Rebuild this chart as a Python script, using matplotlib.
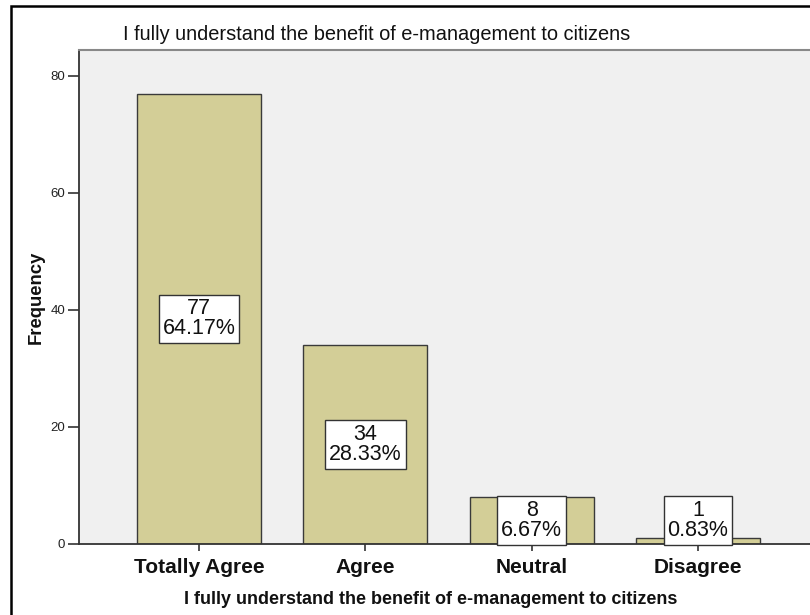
import matplotlib
matplotlib.use("Agg")
import matplotlib.pyplot as plt
from matplotlib.patches import Rectangle

categories = ["Totally Agree", "Agree", "Neutral", "Disagree"]
frequencies = [77, 34, 8, 1]
percents = ["64.17%", "28.33%", "6.67%", "0.83%"]
y_ticks = [0, 20, 40, 60, 80]
title = "I fully understand the benefit of e-management to citizens"

plt.rcParams["font.family"] = ["Liberation Sans", "DejaVu Sans"]

W, H = 810, 615
fig = plt.figure(figsize=(W / 100, H / 100), dpi=100)
fig.patch.set_facecolor("white")

# outer chart frame
fig.patches.append(Rectangle((11 / W, -0.1), 1.2, 1 - 6 / H + 0.1,
                             transform=fig.transFigure, fill=False,
                             edgecolor="black", linewidth=1.8))

# plot area (runs past the right edge of the canvas)
left, right, top, bottom = 79, 818, 50, 544
ax = fig.add_axes([left / W, (H - bottom) / H, (right - left) / W, (bottom - top) / H])
ax.set_facecolor("#F0F0F0")

x = list(range(len(categories)))
ax.bar(x, frequencies, width=0.747, color="#D3CE97", edgecolor="#3A3A3A",
       linewidth=1.0, zorder=2)

ax.set_xlim(-0.723, 3.723)
ax.set_ylim(0, 84.44)

for xi, f, p in zip(x, frequencies, percents):
    ax.text(xi, max(f / 2, 4.0), f"{f}\n{p}", ha="center", va="center",
            fontsize=15.5, linespacing=0.92, zorder=3, color="#111111",
            bbox=dict(boxstyle="square,pad=0.18", facecolor="white",
                      edgecolor="#333333", linewidth=1.0))

ax.set_yticks(y_ticks)
ax.set_yticklabels([str(t) for t in y_ticks], fontsize=9.5, color="#222222")
ax.set_xticks(x)
ax.set_xticklabels(categories, fontsize=15, fontweight="bold", color="#111111")
ax.tick_params(axis="y", length=8, width=1.2, pad=2, color="#333333")
ax.tick_params(axis="x", length=5, width=1.2, pad=5, color="#333333")

for side in ("left", "bottom"):
    ax.spines[side].set_color("#333333")
    ax.spines[side].set_linewidth(1.3)
ax.spines["top"].set_color("#888888")
ax.spines["top"].set_linewidth(1.5)
ax.spines["right"].set_visible(False)

ax.set_ylabel("Frequency", fontsize=13.3, fontweight="bold", labelpad=4,
              color="#111111")

fig.text(377 / W, 1 - 35 / H, title, ha="center", va="center", fontsize=14.4,
         color="#111111")
fig.text(431 / W, 1 - 600 / H, title, ha="center", va="center", fontsize=13,
         fontweight="bold", color="#111111")

fig.savefig("out.png", dpi=100)
